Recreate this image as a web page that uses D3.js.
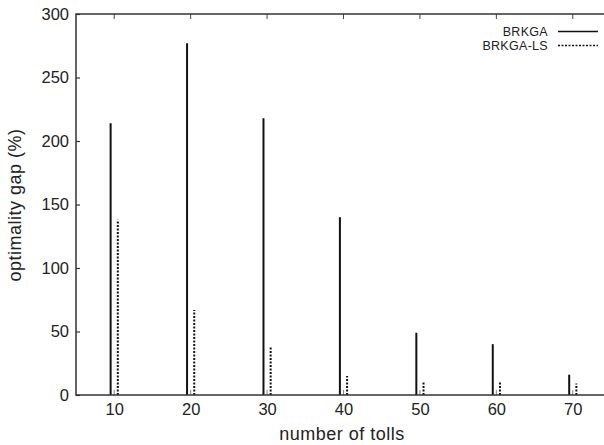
<!DOCTYPE html>
<html>
<head>
<meta charset="utf-8">
<script src="https://cdn.jsdelivr.net/npm/d3@7"></script>
<style>
  body { margin: 0; background: #fff; }
  svg { display: block; font-family: "Liberation Sans", Arial, sans-serif; }
</style>
</head>
<body>
<div class="chart"></div>
<script>
// Chart data
var tolls = [10, 20, 30, 40, 50, 60, 70];
var brkga = [214, 277, 218, 140, 49, 40, 16];
var brkgaLS = [138, 67, 38, 15, 11, 10, 9];
var yTicks = [0, 50, 100, 150, 200, 250, 300];
var seriesNames = ["BRKGA", "BRKGA-LS"];

var svgWidth = 604;
var svgHeight = 445;
var margin = { top: 14, right: -7, bottom: 50, left: 76 };
var width = svgWidth - margin.left - margin.right;
var height = svgHeight - margin.top - margin.bottom;

var svg = d3.select(".chart")
  .append("svg")
  .attr("width", svgWidth)
  .attr("height", svgHeight);

var chart = svg.append("g")
  .attr("transform", "translate(" + margin.left + "," + margin.top + ")");

var xScale = d3.scaleLinear().domain([5, 75]).range([0, width]);
var yScale = d3.scaleLinear().domain([0, 300]).range([height, 0]);

// Bars drawn as vertical impulses
chart.selectAll(".bar-a")
  .data(tolls)
  .enter()
  .append("line")
  .attr("class", "bar-a")
  .attr("x1", function (d) { return xScale(d - 0.47); })
  .attr("x2", function (d) { return xScale(d - 0.47); })
  .attr("y1", yScale(0))
  .attr("y2", function (d, i) { return yScale(brkga[i]); })
  .attr("stroke", "#111")
  .attr("stroke-width", 2);

chart.selectAll(".bar-b")
  .data(tolls)
  .enter()
  .append("line")
  .attr("class", "bar-b")
  .attr("x1", function (d) { return xScale(d + 0.47); })
  .attr("x2", function (d) { return xScale(d + 0.47); })
  .attr("y1", yScale(0))
  .attr("y2", function (d, i) { return yScale(brkgaLS[i]); })
  .attr("stroke", "#111")
  .attr("stroke-width", 2)
  .attr("stroke-dasharray", "2,1.5");

// Small grey tick marks at top and bottom of the x positions
chart.selectAll(".xtick-bottom")
  .data(tolls)
  .enter()
  .append("line")
  .attr("x1", function (d) { return xScale(d); })
  .attr("x2", function (d) { return xScale(d); })
  .attr("y1", height)
  .attr("y2", height - 5)
  .attr("stroke", "#888")
  .attr("stroke-width", 1);

chart.selectAll(".xtick-top")
  .data(tolls)
  .enter()
  .append("line")
  .attr("x1", function (d) { return xScale(d); })
  .attr("x2", function (d) { return xScale(d); })
  .attr("y1", 0)
  .attr("y2", 5)
  .attr("stroke", "#444")
  .attr("stroke-width", 1);

// Frame
chart.append("rect")
  .attr("x", 0)
  .attr("y", 0)
  .attr("width", width)
  .attr("height", height)
  .attr("fill", "none")
  .attr("stroke", "#333")
  .attr("stroke-width", 1.5);

// Y axis
var yAxis = d3.axisLeft(yScale).tickValues(yTicks).tickSizeInner(-4).tickSizeOuter(0).tickPadding(7);
var gy = chart.append("g").attr("class", "y-axis").call(yAxis);
gy.select(".domain").remove();
gy.selectAll(".tick line").attr("stroke", "#333").attr("stroke-width", 1.2);
gy.selectAll("text").attr("font-size", 16.5).attr("fill", "#222")
  .attr("font-family", "Liberation Sans, Arial, sans-serif");

// X axis
var xAxis = d3.axisBottom(xScale).tickValues(tolls).tickSize(0).tickPadding(8);
var gx = chart.append("g")
  .attr("class", "x-axis")
  .attr("transform", "translate(0," + height + ")")
  .call(xAxis);
gx.select(".domain").remove();
gx.selectAll("text").attr("font-size", 16.5).attr("fill", "#222")
  .attr("font-family", "Liberation Sans, Arial, sans-serif");

// Axis labels
svg.append("text")
  .attr("transform", "rotate(-90)")
  .attr("x", -205)
  .attr("y", 21)
  .attr("text-anchor", "middle")
  .attr("font-size", 18)
  .attr("letter-spacing", 0.5)
  .attr("fill", "#222")
  .text("optimality gap (%)");

svg.append("text")
  .attr("x", 342)
  .attr("y", 440)
  .attr("text-anchor", "middle")
  .attr("font-size", 18)
  .attr("letter-spacing", 0.5)
  .attr("fill", "#222")
  .text("number of tolls");

// Legend
var legend = svg.append("g");
seriesNames.forEach(function (name, i) {
  var ly = 31.5 + i * 14;
  legend.append("text")
    .attr("x", 548)
    .attr("y", ly + 4.5)
    .attr("text-anchor", "end")
    .attr("font-size", 12.5)
    .attr("letter-spacing", 0.3)
    .attr("fill", "#222")
    .text(name);
  legend.append("line")
    .attr("x1", 558)
    .attr("x2", 598)
    .attr("y1", ly)
    .attr("y2", ly)
    .attr("stroke", "#111")
    .attr("stroke-width", 1.6)
    .attr("stroke-dasharray", i === 0 ? null : "2,1.5");
});
</script>
</body>
</html>
